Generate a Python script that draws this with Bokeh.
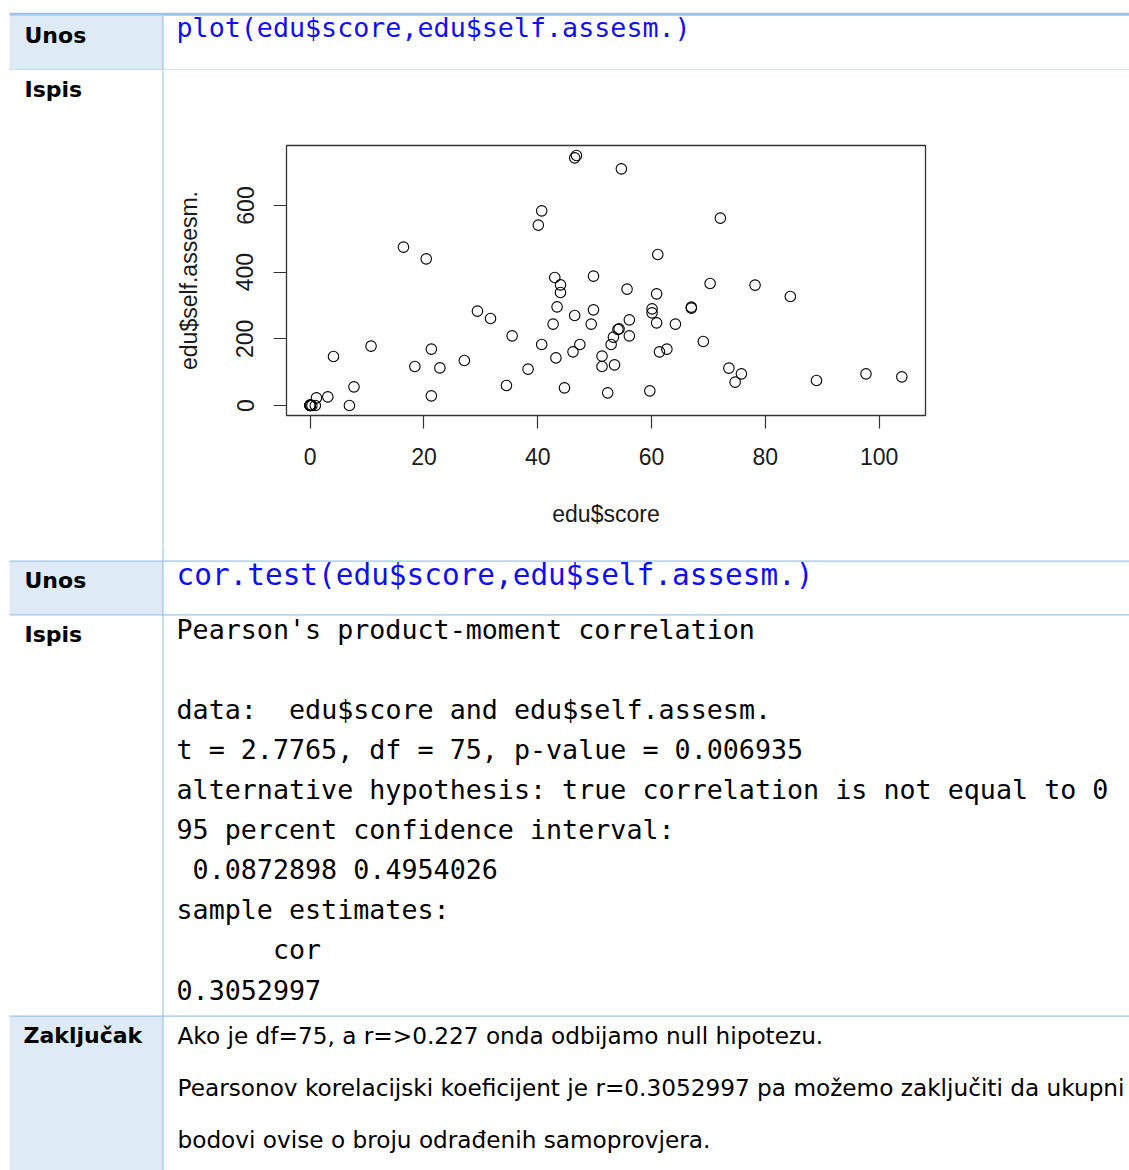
import re
from bokeh.plotting import figure
from bokeh.layouts import column, row
from bokeh.models import Range1d, FixedTicker
from bokeh.embed import file_html
from bokeh.resources import INLINE
from bokeh.core.properties import value

# ---------------- data ----------------
score = [0, 0, 0, 0, 0, 0.3, 0.9, 1.1, 3.1, 4.1, 6.9, 7.7, 10.7, 16.4, 18.4, 20.4,
         21.3, 21.3, 22.8, 27.1, 29.4, 31.7, 34.5, 35.5, 38.3, 40.1, 40.7, 40.7,
         42.7, 43.0, 43.2, 43.4, 44.0, 44.0, 44.7, 46.5, 46.8, 46.2, 46.5, 47.4,
         49.4, 49.8, 49.8, 51.3, 51.3, 52.3,
         54.7, 72.1, 61.1, 55.7, 70.3, 78.2, 84.4, 60.9, 67.0, 67.0, 60.1, 60.1,
         56.1, 60.9, 64.2, 54.1, 54.3, 53.3, 56.1, 52.9, 53.5, 69.1, 62.7, 61.4,
         59.7, 73.6, 75.8, 74.7, 89.0, 97.7, 104.0]
self_assesm = [2, 0, 0, 0, 0, 0, 0, 23, 26, 147, 0, 56, 178, 475, 117, 440,
               169, 29, 113, 135, 283, 261, 60, 209, 109, 541, 584, 183,
               244, 384, 143, 296, 362, 339, 53, 743, 750, 161, 270, 183,
               244, 388, 287, 148, 117, 38,
               710, 562, 453, 349, 366, 361, 327, 335, 295, 292, 290, 278,
               257, 248, 244, 228, 230, 205, 209, 183, 122, 192, 169, 161,
               44, 112, 95, 70, 75, 95, 86]
x_ticks = [0, 20, 40, 60, 80, 100]
y_ticks = [0, 200, 400, 600]
x_label = "edu$score"
y_label = "edu$self.assesm."

row_labels = ["Unos", "Ispis", "Unos", "Ispis", "Zaključak"]
code_1 = "plot(edu$score,edu$self.assesm.)"
code_2 = "cor.test(edu$score,edu$self.assesm.)"
output_lines = [
    "Pearson's product-moment correlation",
    "",
    "data:  edu$score and edu$self.assesm.",
    "t = 2.7765, df = 75, p-value = 0.006935",
    "alternative hypothesis: true correlation is not equal to 0",
    "95 percent confidence interval:",
    " 0.0872898 0.4954026",
    "sample estimates:",
    "      cor",
    "0.3052997",
]
conclusion_lines = [
    "Ako je df=75, a r=>0.227 onda odbijamo null hipotezu.",
    "Pearsonov korelacijski koeficijent je r=0.3052997 pa možemo zaključiti da ukupni",
    "bodovi ovise o broju odrađenih samoprovjera.",
]

# ---------------- styles ----------------
LINE_BLUE = "#9DC3E6"
CELL_BLUE = "#DEEAF6"
CODE_BLUE = "#1010EE"
MONO = value("DejaVu Sans Mono")
SANS = value("DejaVu Sans")
MONO_SIZE = 26.7
TEXT_DY = -8.5

PAGE_W, PAGE_H = 1129, 1170
X0, X1 = 0, PAGE_W
DIV_X = 162.5
TEXT_X = 176


def doc_fig(w, h, x0, x1, y0, y1):
    f = figure(width=w, height=h, x_range=Range1d(x0, x1), y_range=Range1d(y1, y0),
               toolbar_location=None, output_backend="svg",
               x_axis_location=None, y_axis_location=None, min_border=0,
               frame_align=False)
    f.grid.visible = False
    f.outline_line_color = None
    f.background_fill_color = "white"
    f.border_fill_color = "white"
    return f


def label(f, txt, x, y):
    f.text(x=[x], y=[y + TEXT_DY], text=[txt], text_font=SANS, text_font_style="bold",
           text_font_size="22px", text_color="#000000", text_baseline="alphabetic")


def mono_line(f, txt, x, y, color="#000000", size=MONO_SIZE):
    cw = 0.6021 * size
    for m in re.finditer(r"\S+(?: \S+)*", txt):
        f.text(x=[x + m.start() * cw], y=[y + TEXT_DY], text=[m.group(0)], text_font=MONO,
               text_font_size=f"{size}px", text_color=color, text_baseline="alphabetic")


def hline(f, y, x0=9, x1=X1):
    f.segment(x0=[x0], y0=[y], x1=[x1], y1=[y], line_color=LINE_BLUE, line_width=1.2)


def vline(f, y0, y1):
    f.segment(x0=[DIV_X], y0=[y0], x1=[DIV_X], y1=[y1], line_color=LINE_BLUE, line_width=1.2)


# ---------------- top row ----------------
T_Y0, T_Y1 = 0, 70
T = doc_fig(PAGE_W, T_Y1 - T_Y0, X0, X1, T_Y0, T_Y1)
T.quad(left=[9], right=[X1], top=[12.3], bottom=[15.2], fill_color=LINE_BLUE, line_color=None)
T.quad(left=[9], right=[DIV_X], top=[15.2], bottom=[69], fill_color=CELL_BLUE, line_color=None)
hline(T, 69.5)
vline(T, 15.2, 70)
label(T, row_labels[0], 24, 43.3)
mono_line(T, code_1, TEXT_X, 35.5, color=CODE_BLUE)

# ---------------- middle row: left cell + scatter ----------------
M_Y0, M_Y1 = 70, 545
L_W = 166
L = doc_fig(L_W, M_Y1 - M_Y0, X0, L_W, M_Y0, M_Y1)
vline(L, M_Y0, M_Y1)
label(L, row_labels[1], 24, 97)

xmin, xmax = min(score), max(score)
ymin, ymax = min(self_assesm), max(self_assesm)
xpad = 0.04 * (xmax - xmin)
ypad = 0.04 * (ymax - ymin)

S_W = PAGE_W - L_W
S_H = M_Y1 - M_Y0
S_LEFT = 286 - L_W
S = figure(width=S_W, height=S_H,
           x_range=Range1d(xmin - xpad, xmax + xpad),
           y_range=Range1d(ymin - ypad, ymax + ypad),
           toolbar_location=None, output_backend="svg", frame_align=False,
           min_border_left=S_LEFT, min_border_right=S_W - S_LEFT - 639,
           min_border_top=75, min_border_bottom=S_H - 75 - 270)
S.grid.visible = False
S.background_fill_color = "white"
S.border_fill_color = "white"
S.outline_line_color = "#333333"
S.outline_line_width = 1.3
S.scatter(score, self_assesm, size=10.5, marker="circle", fill_color=None,
          line_color="#000000", line_width=1.1)

for ax, ticks in ((S.xaxis[0], x_ticks), (S.yaxis[0], y_ticks)):
    ax.ticker = FixedTicker(ticks=ticks)
    ax.major_tick_out = 13
    ax.major_tick_in = 0
    ax.minor_tick_line_color = None
    ax.axis_line_color = None
    ax.major_tick_line_color = "#333333"
    ax.major_tick_line_width = 1.2
    ax.major_label_text_font = "Liberation Sans"
    ax.major_label_text_font_size = "23px"
    ax.major_label_text_color = "#1a1a1a"
    ax.axis_label_text_font = "Liberation Sans"
    ax.axis_label_text_font_size = "23px"
    ax.axis_label_text_font_style = "normal"
    ax.axis_label_text_color = "#1a1a1a"
S.xaxis.axis_label = x_label
S.yaxis.axis_label = y_label
S.xaxis.major_label_standoff = 19
S.xaxis.axis_label_standoff = 33
S.yaxis.major_label_orientation = "vertical"
S.yaxis.major_label_standoff = 20
S.yaxis.axis_label_standoff = 32

# ---------------- bottom part ----------------
B_Y0, B_Y1 = M_Y1, PAGE_H
B = doc_fig(PAGE_W, B_Y1 - B_Y0, X0, X1, B_Y0, B_Y1)
B.quad(left=[9], right=[DIV_X], top=[561], bottom=[614], fill_color=CELL_BLUE, line_color=None)
B.quad(left=[9], right=[DIV_X], top=[1016], bottom=[B_Y1], fill_color=CELL_BLUE, line_color=None)
for yy in (560.7, 614.3, 1015.7):
    hline(B, yy)
vline(B, B_Y0, B_Y1)
label(B, row_labels[2], 24, 588.3)
label(B, row_labels[3], 24, 642)
label(B, row_labels[4], 23, 1043.3)
mono_line(B, code_2, TEXT_X, 583, color=CODE_BLUE, size=29.4)
for i, ln in enumerate(output_lines):
    mono_line(B, ln, TEXT_X, 637 + 40.1 * i)
for i, ln in enumerate(conclusion_lines):
    B.text(x=[TEXT_X + 1], y=[1043.3 + 52 * i + TEXT_DY], text=[ln], text_font=SANS,
           text_font_size="23.2px", text_color="#000000", text_baseline="alphabetic")

layout = column(T, row(L, S), B)
open("out.html", "w").write(file_html(layout, INLINE))
